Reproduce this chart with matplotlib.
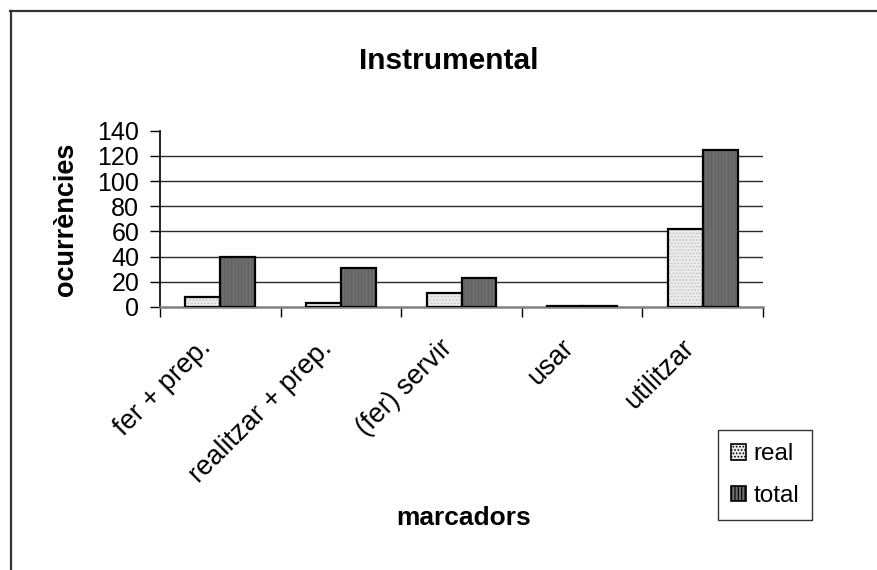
"""
Ocurrències dels marcadors instrumentals: valors reals i totals.
"""

import matplotlib.pyplot as plt
import matplotlib.transforms as mtransforms
from matplotlib.lines import Line2D
from matplotlib.patches import Patch
import numpy as np

plt.rcParams['font.family'] = ['Liberation Sans', 'DejaVu Sans']
plt.rcParams['hatch.linewidth'] = 0.8

marcadors = ["fer + prep.", "realitzar + prep.", "(fer) servir", "usar", "utilitzar"]
real = [8, 3, 11, 1, 62]
total = [40, 31, 23, 1, 125]
yticks = [0, 20, 40, 60, 80, 100, 120, 140]

fig = plt.figure(figsize=(8.77, 5.70), dpi=100)
ax = fig.add_axes([160 / 877, 1 - 307 / 570, 603 / 877, 176.3 / 570])

x = np.arange(len(marcadors))
w = 0.29

# línies de graella (sense la del 0 ni la del màxim)
for yv in yticks[1:-1]:
    ax.axhline(yv, color='#2a2a2a', lw=1.0, zorder=0)

# farciment amb trama, i contorn negre a sobre
ax.bar(x - w / 2, real, w, color='#ececec', hatch='.....', edgecolor='#c4c4c4',
       lw=0, zorder=2)
ax.bar(x + w / 2, total, w, color='#6e6e6e', hatch='|||||', edgecolor='#606060',
       lw=0, zorder=2)
ax.bar(x - w / 2, real, w, fill=False, edgecolor='black', lw=1.6, zorder=3)
ax.bar(x + w / 2, total, w, fill=False, edgecolor='black', lw=1.6, zorder=3)

ax.set_xlim(-0.5, len(marcadors) - 0.5)
ax.set_ylim(0, 140)
ax.set_yticks(yticks)
ax.tick_params(axis='y', direction='out', length=7, width=1, pad=8, labelsize=18)

ax.set_xticks(x)
ax.set_xticklabels(marcadors, rotation=45, ha='right', va='top',
                   rotation_mode='anchor', fontsize=19.5)
ax.set_xticks(np.arange(-0.5, len(marcadors)), minor=True)
ax.tick_params(axis='x', which='major', length=0, pad=20)
ax.tick_params(axis='x', which='minor', direction='out', length=7, width=1)

# desplaça les etiquetes girades cap a l'esquerra
shift = mtransforms.ScaledTranslation(-22 / 100, 0, fig.dpi_scale_trans)
for lbl in ax.get_xticklabels():
    lbl.set_transform(lbl.get_transform() + shift)

for s in ['top', 'right']:
    ax.spines[s].set_visible(False)
ax.spines['left'].set_linewidth(1.2)
ax.spines['bottom'].set_color('#808080')
ax.spines['bottom'].set_linewidth(1.8)

ax.set_ylabel("ocurrències", fontsize=19.5, fontweight='bold')
ax.yaxis.set_label_coords(-0.135, 0.5)

fig.text(449 / 877, 1 - 61 / 570, "Instrumental", fontsize=21.5, fontweight='bold',
         ha='center', va='center')
fig.text(464 / 877, 1 - 518 / 570, "marcadors", fontsize=19, fontweight='bold',
         ha='center', va='center')

handles = [Patch(facecolor='#ececec', hatch='.....', edgecolor='black', lw=1.2),
           Patch(facecolor='#6e6e6e', hatch='|||||', edgecolor='black', lw=1.2)]
leg = fig.legend(handles, ["real", "total"], loc='upper left',
                 bbox_to_anchor=(718 / 877, 1 - 430 / 570), fontsize=17.5,
                 frameon=True, fancybox=False, edgecolor='black',
                 handlelength=0.6, handleheight=0.6, handletextpad=0.3,
                 labelspacing=0.8, borderpad=0.55, borderaxespad=0)
leg.get_frame().set_linewidth(1.0)

# marc exterior del gràfic
fig.add_artist(Line2D([10 / 877, 1], [1 - 10.5 / 570] * 2, color='#333333', lw=1.6))
fig.add_artist(Line2D([10.5 / 877] * 2, [0, 1 - 10.5 / 570], color='#333333', lw=1.6))

plt.savefig("out.png", dpi=100)
